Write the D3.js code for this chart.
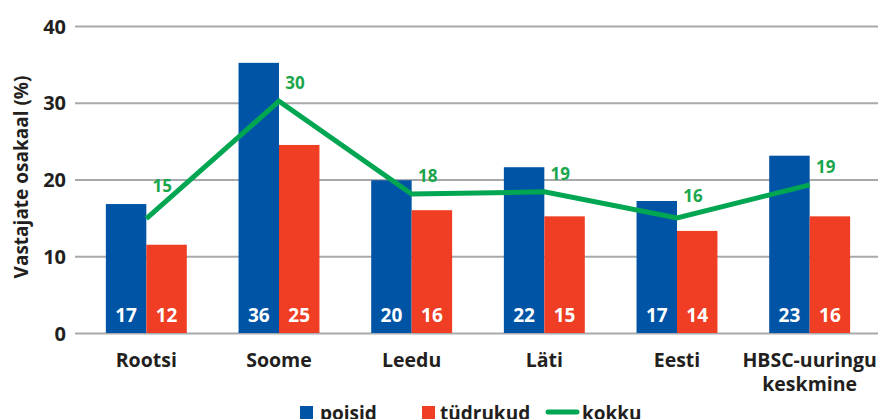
<!DOCTYPE html>
<html><head><meta charset="utf-8">
<script src="https://cdn.jsdelivr.net/npm/d3@7"></script>
<style>
html,body{margin:0;padding:0;background:#fff;}
svg{display:block;}
text{font-family:"Open Sans","Noto Sans",sans-serif;font-weight:700;}
</style></head>
<body>
<svg id="c" width="878" height="419"></svg>
<script>
const categories = [["Rootsi"],["Soome"],["Leedu"],["Läti"],["Eesti"],["HBSC-uuringu","keskmine"]];
const boys = [16.8, 35.2, 19.9, 21.6, 17.2, 23.1];
const girls = [11.5, 24.5, 16.0, 15.2, 13.3, 15.2];
const total = [14.9, 30.2, 18.1, 18.4, 15.0, 19.3];
const boysLabels = ["17","36","20","22","17","23"];
const girlsLabels = ["12","25","16","15","14","16"];
const totalLabels = ["15","30","18","19","16","19"];
const yTicks = [0,10,20,30,40];
const seriesNames = ["poisid","tüdrukud","kokku"];

const colBlue = "#0054a6", colRed = "#ef3e23", colGreen = "#00a651", textCol = "#231f20";
const svg = d3.select("#c");
const idx = d3.range(categories.length);

const y = d3.scaleLinear().domain([0,40]).range([333,26]);
const x = d3.scaleBand().domain(idx).range([80,876]).paddingInner(0.39).paddingOuter(0.195);
const xs = d3.scaleBand().domain([0,1]).range([0,x.bandwidth()]);

// gridlines
const yAxis = d3.axisLeft(y).tickValues(yTicks).tickSize(-(878-75)).tickPadding(9).tickFormat(d3.format("d"));
const ga = svg.append("g").attr("transform","translate(75,0)").call(yAxis);
ga.select(".domain").remove();
ga.selectAll(".tick line").attr("stroke","#a7a9ac").attr("stroke-width",2);
ga.selectAll(".tick text").attr("fill",textCol).style("font-size","20px").attr("dy","0.36em");

// bars
const g = svg.append("g");
g.selectAll("rect.b").data(idx).join("rect").attr("class","b")
  .attr("x",i=>x(i)+xs(0)).attr("width",xs.bandwidth())
  .attr("y",i=>y(boys[i])).attr("height",i=>y(0)-y(boys[i])).attr("fill",colBlue);
g.selectAll("rect.g").data(idx).join("rect").attr("class","g")
  .attr("x",i=>x(i)+xs(1)).attr("width",xs.bandwidth())
  .attr("y",i=>y(girls[i])).attr("height",i=>y(0)-y(girls[i])).attr("fill",colRed);

// bar labels
g.selectAll("text.bl").data(idx).join("text").attr("class","bl")
  .attr("x",i=>x(i)+xs(0)+xs.bandwidth()/2).attr("y",322)
  .attr("text-anchor","middle").attr("fill","#fff").style("font-size","19px").text(i=>boysLabels[i]);
g.selectAll("text.gl").data(idx).join("text").attr("class","gl")
  .attr("x",i=>x(i)+xs(1)+xs.bandwidth()/2).attr("y",322)
  .attr("text-anchor","middle").attr("fill","#fff").style("font-size","19px").text(i=>girlsLabels[i]);

// line
const cx = i => x(i)+x.bandwidth()/2;
const line = d3.line().x(i=>cx(i)).y(i=>y(total[i]));
g.append("path").datum(idx).attr("d",line).attr("fill","none")
  .attr("stroke",colGreen).attr("stroke-width",5).attr("stroke-linejoin","miter");
// label: right of the point, kept above the line segment that follows
const dxLab = 16;
function labY(i){
  let py = y(total[i]);
  if (i < idx.length-1){
    const ny = y(total[i+1]);
    const segY = py + (ny-py)*dxLab/(cx(i+1)-cx(i));
    py = Math.min(py, segY);
  }
  return py - 12;
}
g.selectAll("text.tl").data(idx).join("text").attr("class","tl")
  .attr("x",i=>cx(i)+dxLab).attr("y",labY)
  .attr("text-anchor","middle").attr("fill","#1aa64b").style("font-size","17px").text(i=>totalLabels[i]);

// category labels
const cl = g.selectAll("text.cl").data(idx).join("text").attr("class","cl")
  .attr("x",i=>cx(i)).attr("y",367).attr("text-anchor","middle").attr("fill",textCol).style("font-size","19.5px");
cl.each(function(i){
  const t = d3.select(this);
  categories[i].forEach((s,k)=>t.append("tspan").attr("x",cx(i)).attr("dy",k?24:0).text(s));
});

// y title
svg.append("text").attr("transform","translate(28,177) rotate(-90)")
  .attr("text-anchor","middle").attr("fill",textCol).style("font-size","19px").text("Vastajate osakaal (%)");

// legend
const lg = svg.append("g");
lg.append("rect").attr("x",300).attr("y",406).attr("width",13).attr("height",13).attr("fill",colBlue);
lg.append("text").attr("x",320).attr("y",420).attr("fill",textCol).style("font-size","19px").text(seriesNames[0]);
lg.append("rect").attr("x",422).attr("y",406).attr("width",13).attr("height",13).attr("fill",colRed);
lg.append("text").attr("x",440).attr("y",420).attr("fill",textCol).style("font-size","19px").text(seriesNames[1]);
lg.append("line").attr("x1",548).attr("x2",577).attr("y1",412).attr("y2",412).attr("stroke",colGreen).attr("stroke-width",5).attr("stroke-linecap","round");
lg.append("text").attr("x",582).attr("y",420).attr("fill",textCol).style("font-size","19px").text(seriesNames[2]);
</script>
</body></html>
